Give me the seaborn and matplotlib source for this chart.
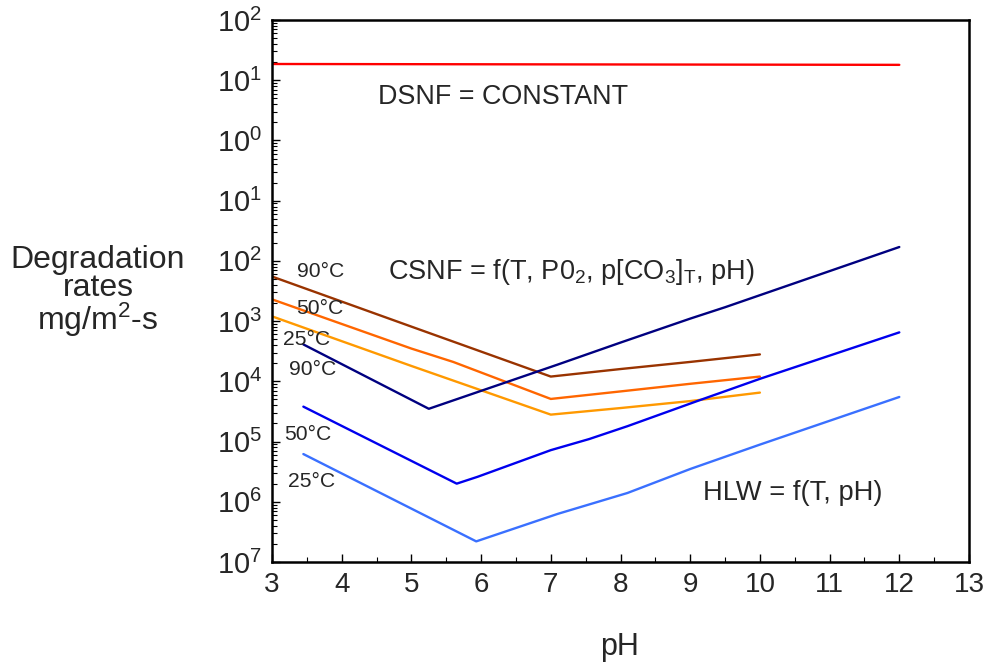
import numpy as np
import pandas as pd
import matplotlib
matplotlib.use("Agg")
import matplotlib.pyplot as plt
from matplotlib.ticker import FixedLocator, FixedFormatter, MultipleLocator
import seaborn as sns

# ---- data ----
dsnf_ph = [3.0, 12.0]
dsnf_rate = [18.6, 18.0]

csnf90_ph = [3.0, 5.0, 7.0, 8.0, 9.0, 10.0]
csnf90_rate = [5.5e-3, 8.1e-4, 1.2e-4, 1.6e-4, 2.1e-4, 2.8e-4]

csnf50_ph = [3.0, 5.0, 5.6, 7.0, 8.0, 9.0, 10.0]
csnf50_rate = [2.3e-3, 3.5e-4, 2.1e-4, 5.1e-5, 6.8e-5, 9.1e-5, 1.2e-4]

csnf25_ph = [3.0, 5.0, 7.0, 8.0, 9.0, 10.0]
csnf25_rate = [1.2e-3, 1.8e-4, 2.8e-5, 3.6e-5, 4.7e-5, 6.5e-5]

hlw90_ph = [3.45, 5.25, 7.1, 8.0, 9.0, 9.5, 12.0]
hlw90_rate = [4.1e-4, 3.5e-5, 1.9e-4, 4.4e-4, 1.1e-3, 1.7e-3, 1.7e-2]

hlw50_ph = [3.45, 5.65, 5.95, 7.0, 7.55, 8.1, 9.1, 10.0, 12.0]
hlw50_rate = [3.8e-5, 2.0e-6, 2.6e-6, 7.2e-6, 1.1e-5, 1.8e-5, 4.7e-5, 1.1e-4, 6.5e-4]

hlw25_ph = [3.45, 5.93, 7.1, 8.1, 9.0, 10.0, 12.0]
hlw25_rate = [6.2e-6, 2.2e-7, 6.3e-7, 1.4e-6, 3.5e-6, 8.9e-6, 5.5e-5]

series_names = ["DSNF", "CSNF 90", "CSNF 50", "CSNF 25", "HLW 90", "HLW 50", "HLW 25"]
series_colors = ["#FF0000", "#993300", "#FF6600", "#FF9900", "#000080", "#0000EE", "#3A70FF"]

x_ticks = [3, 4, 5, 6, 7, 8, 9, 10, 11, 12, 13]
y_tick_exps = [2, 1, 0, -1, -2, -3, -4, -5, -6, -7]
y_tick_labels = ["2", "1", "0", "1", "2", "3", "4", "5", "6", "7"]  # as printed in the reference

# ---- build table ----
all_ph = [dsnf_ph, csnf90_ph, csnf50_ph, csnf25_ph, hlw90_ph, hlw50_ph, hlw25_ph]
all_rate = [dsnf_rate, csnf90_rate, csnf50_rate, csnf25_rate, hlw90_rate, hlw50_rate, hlw25_rate]
frames = []
for name, ph, rate in zip(series_names, all_ph, all_rate):
    frames.append(pd.DataFrame({"pH": ph, "rate": rate, "series": name}))
df = pd.concat(frames, ignore_index=True)

sns.set_style("ticks")
plt.rcParams["font.family"] = ["Liberation Sans", "DejaVu Sans"]
plt.rcParams["mathtext.fontset"] = "custom"
plt.rcParams["mathtext.rm"] = "Liberation Sans"
plt.rcParams["mathtext.it"] = "Liberation Sans"
plt.rcParams["mathtext.default"] = "regular"

fig = plt.figure(figsize=(9.91, 6.65), dpi=100)
ax = fig.add_axes([272 / 991, 1 - 562 / 665, (969 - 272) / 991, (562 - 20) / 665])

sns.lineplot(data=df, x="pH", y="rate", hue="series", hue_order=series_names,
             palette=dict(zip(series_names, series_colors)), sort=False,
             estimator=None, linewidth=1.7, legend=False, ax=ax)

ax.set_yscale("log")
ax.set_xlim(3, 13)
ax.set_ylim(10.0 ** -7, 10.0 ** 2)

ax.xaxis.set_major_locator(FixedLocator(x_ticks))
ax.xaxis.set_minor_locator(MultipleLocator(0.5))
ax.yaxis.set_major_locator(FixedLocator([10.0 ** e for e in y_tick_exps]))
ax.yaxis.set_major_formatter(FixedFormatter([r"$10^{%s}$" % s for s in y_tick_labels]))
minor = [m * 10.0 ** e for e in range(-7, 2) for m in range(2, 10)]
ax.yaxis.set_minor_locator(FixedLocator(minor))
ax.yaxis.set_minor_formatter(FixedFormatter([""] * len(minor)))

ax.tick_params(axis="both", which="both", direction="in", top=False, right=False,
               color="black")
ax.tick_params(axis="x", which="major", labelsize=20)
ax.tick_params(axis="y", which="major", labelsize=21)
ax.tick_params(axis="both", which="major", length=6, width=1.0, pad=7)
ax.tick_params(axis="both", which="minor", length=3.5, width=0.8)
for s in ax.spines.values():
    s.set_visible(True)
    s.set_linewidth(1.8)
    s.set_color("black")

ax.set_xlabel("")
ax.set_ylabel("")
fig.text(620 / 991, 1 - 647 / 665, "pH", ha="center", va="center", fontsize=22)
fig.text(98 / 991, 1 - 292 / 665, "Degradation\nrates\nmg/m$^{2}$-s", ha="center",
         va="center", fontsize=23, linespacing=0.93)

# annotations
ax.text(4.52, 10 ** 0.72, "DSNF = CONSTANT", fontsize=19.4, va="center", ha="left")
ax.text(4.66, 10 ** -2.19, "CSNF = f(T, P0$_{2}$, p[CO$_{3}$]$_{T}$, pH)", fontsize=19.5,
        va="center", ha="left")
ax.text(9.18, 10 ** -5.86, "HLW = f(T, pH)", fontsize=19.6, va="center", ha="left")

temp_labels = ["90°C", "50°C", "25°C", "90°C", "50°C", "25°C"]
temp_x = [3.70, 3.69, 3.49, 3.59, 3.51, 3.57]
temp_logy = [-2.17, -2.79, -3.30, -3.81, -4.88, -5.67]
for lbl, tx, ty in zip(temp_labels, temp_x, temp_logy):
    ax.text(tx, 10 ** ty, lbl, fontsize=15.2, ha="center", va="center")

fig.savefig("out.png", dpi=100)
